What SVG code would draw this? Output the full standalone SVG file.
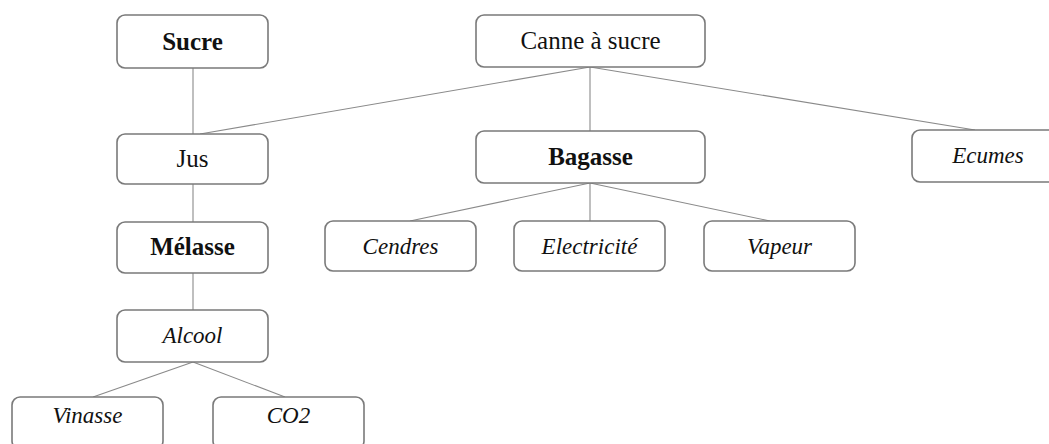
<svg xmlns="http://www.w3.org/2000/svg" width="1049" height="444" viewBox="0 0 1049 444">
<style>
.box{fill:#fff;stroke:#7a7a7a;stroke-width:1.6}
.t{font-family:"Liberation Serif","Times New Roman",serif;fill:#111;text-anchor:middle}
.b{font-weight:bold;font-size:25px}
.r{font-size:25px}
.i{font-style:italic;font-size:23px}
.c{stroke:#8a8a8a;stroke-width:1.1;fill:none}
</style>
<rect width="1049" height="444" fill="#fff"/>
<g id="connectors">
<line class="c" x1="193" y1="68" x2="193" y2="134"/>
<line class="c" x1="590" y1="67" x2="200" y2="134"/>
<line class="c" x1="590" y1="67" x2="590" y2="131"/>
<line class="c" x1="590" y1="67" x2="975" y2="130"/>
<line class="c" x1="193" y1="184" x2="193" y2="222"/>
<line class="c" x1="193" y1="273" x2="193" y2="310"/>
<line class="c" x1="193" y1="362" x2="93" y2="397"/>
<line class="c" x1="193" y1="362" x2="285" y2="397"/>
<line class="c" x1="590" y1="183" x2="410" y2="221"/>
<line class="c" x1="590" y1="183" x2="590" y2="221"/>
<line class="c" x1="590" y1="183" x2="770" y2="221"/>
</g>
<g id="sucre"><rect class="box" x="117" y="15" width="151" height="53" rx="8"/><text class="t b" x="192.5" y="50">Sucre</text></g>
<g id="canne"><rect class="box" x="476" y="15" width="229" height="52" rx="8"/><text class="t r" x="590.5" y="49">Canne à sucre</text></g>
<g id="jus"><rect class="box" x="117" y="134" width="151" height="50" rx="8"/><text class="t r" x="192.5" y="167">Jus</text></g>
<g id="bagasse"><rect class="box" x="476" y="131" width="229" height="52" rx="8"/><text class="t b" x="590.5" y="165">Bagasse</text></g>
<g id="ecumes"><rect class="box" x="912" y="130" width="152" height="52" rx="8"/><text class="t i" x="988" y="163">Ecumes</text></g>
<g id="melasse"><rect class="box" x="117" y="222" width="151" height="51" rx="8"/><text class="t b" x="192.5" y="255">Mélasse</text></g>
<g id="cendres"><rect class="box" x="325" y="221" width="151" height="50" rx="8"/><text class="t i" x="400.5" y="254">Cendres</text></g>
<g id="electricite"><rect class="box" x="514" y="221" width="151" height="50" rx="8"/><text class="t i" x="589.5" y="254">Electricité</text></g>
<g id="vapeur"><rect class="box" x="704" y="221" width="151" height="50" rx="8"/><text class="t i" x="779.5" y="254">Vapeur</text></g>
<g id="alcool"><rect class="box" x="117" y="310" width="151" height="52" rx="8"/><text class="t i" x="192.5" y="343">Alcool</text></g>
<g id="vinasse"><rect class="box" x="12" y="397" width="151" height="52" rx="8"/><text class="t i" x="87.5" y="423">Vinasse</text></g>
<g id="co2"><rect class="box" x="213" y="397" width="151" height="52" rx="8"/><text class="t i" x="288.5" y="423">CO2</text></g>
</svg>
